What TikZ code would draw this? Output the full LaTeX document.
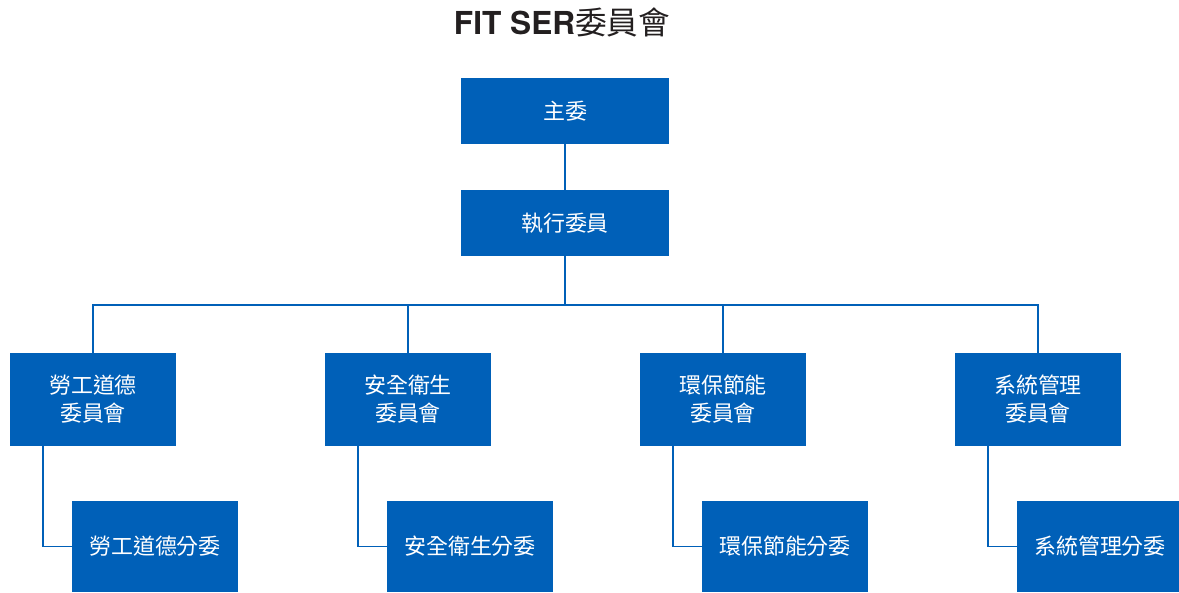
\documentclass[tikz,border=0pt]{standalone}
\usepackage{fontspec}
\setmainfont{TeX Gyre Heros}
\newfontfamily\cjk{Noto Sans CJK TC}
\definecolor{orgblue}{HTML}{0060B8}
\definecolor{titlegray}{HTML}{231F20}

\begin{document}
\begin{tikzpicture}[x=0.02cm, y=-0.02cm,
    unit/.style={fill=orgblue, text=white, font=\cjk\fontsize{12.5}{16}\selectfont,
        align=center, inner sep=0pt},
    topbox/.style={unit, minimum width=4.16cm, minimum height=1.32cm},
    groupbox/.style={unit, minimum width=3.32cm, minimum height=1.86cm},
    subbox/.style={unit, minimum width=3.32cm, minimum height=1.82cm},
    link/.style={draw=orgblue, line width=1.1pt}]
        \useasboundingbox (0,0) rectangle (1179,592);

        % Title
        \node[text=titlegray, font=\fontsize{18}{21}\selectfont] (title) at (562,22)
            {\bfseries FIT SER{\cjk\mdseries 委員會}};

        % Top levels
        \node[topbox] (chair) at (565,111) {主委};
        \node[topbox] (exec) at (565,223) {執行委員};
        \draw[link] (chair) -- (exec);
        \coordinate (bus) at (565,305);
        \draw[link] (exec.south) -- (bus);

        % Committees and their subcommittees
        \foreach \i/\name/\x in {1/勞工道德/93, 2/安全衛生/408, 3/環保節能/723, 4/系統管理/1038} {
            \node[groupbox] (group\i) at (\x,399.5) {\name\\委員會};
            \node[subbox] (sub\i) at (\x+62,546.5) {\name 分委};
            \draw[link] (bus) -| (group\i.north);
            \draw[link] ([xshift=0.66cm]group\i.south west) |- (sub\i.west);
        }
    \end{tikzpicture}
\end{document}
